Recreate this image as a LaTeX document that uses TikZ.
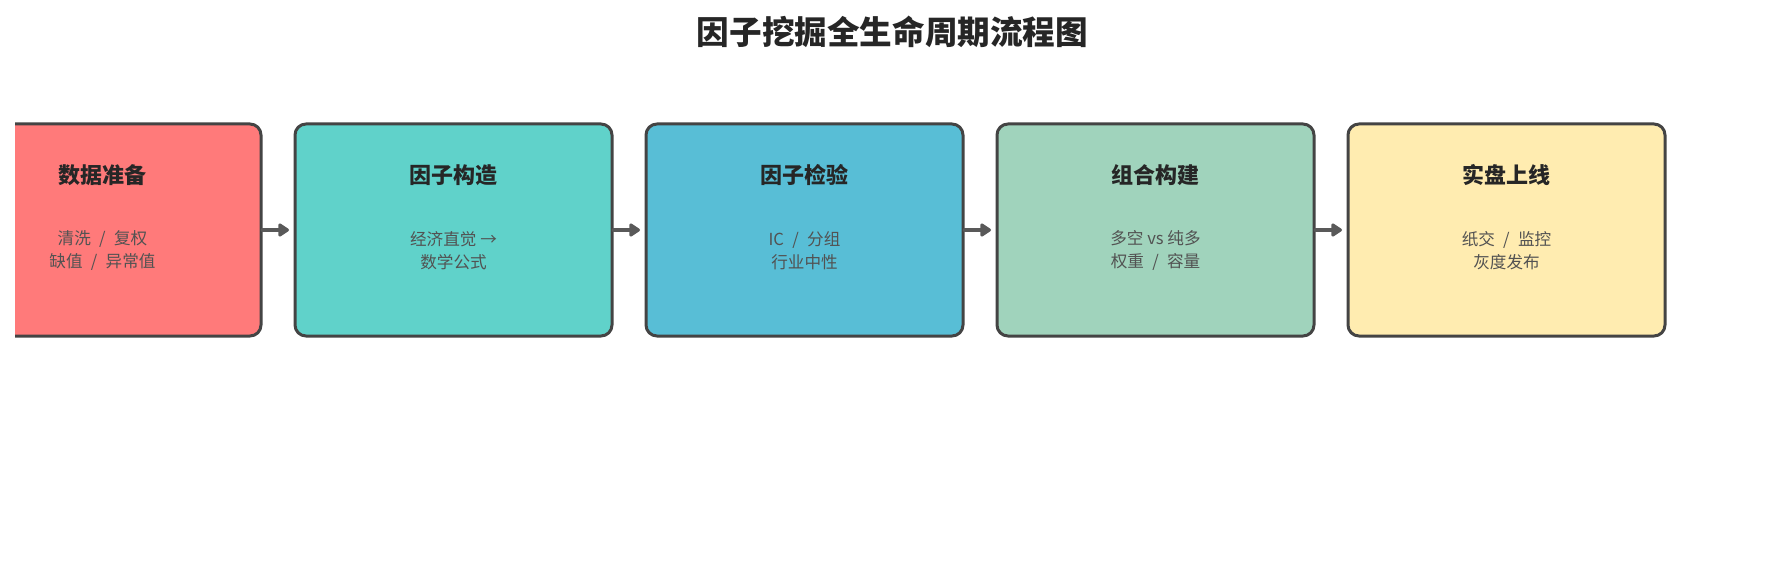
\documentclass[tikz,border=0pt]{standalone}
\usepackage{fontspec}
\setmainfont{Noto Sans CJK SC}
\usetikzlibrary{arrows.meta,positioning}

\definecolor{stagePrep}{RGB}{255,122,122}
\definecolor{stageBuild}{RGB}{96,210,202}
\definecolor{stageTest}{RGB}{88,190,214}
\definecolor{stagePort}{RGB}{160,211,188}
\definecolor{stageLive}{RGB}{255,236,176}
\definecolor{edgeGray}{HTML}{444444}
\newcommand{\stageSlash}{\enspace/\enspace}

\begin{document}
\begin{tikzpicture}[x=0.5pt,y=0.5pt,
    stage/.style={draw=edgeGray, line width=1.5pt, rounded corners=5.5pt,
      minimum width=158.5pt, minimum height=106pt, inner sep=0pt, outer sep=0pt},
    head/.style={font=\fontsize{11}{13}\selectfont\bfseries, text=black!85},
    note/.style={font=\fontsize{8.3}{11.5}\selectfont, text=black!68, align=center},
    flow/.style={-{Triangle[length=6pt,width=7.5pt,round]}, line width=2.4pt,
      draw=black!65, line cap=round, shorten <=1pt, shorten >=3pt}]
  \useasboundingbox (0,0) rectangle (1785,585);

  % Title
  \node[font=\fontsize{16.3}{19}\selectfont\bfseries, text=black!85] (title)
    at (892.5,553) {因子挖掘全生命周期流程图};

  % Stages (the first one runs off the left edge)
  \begin{scope}
    \clip (15,0) rectangle (1785,585);
    \node[stage, fill=stagePrep] (prep) at (102.5,355) {};
  \end{scope}
  \node[stage, fill=stageBuild, right=17pt of prep] (build) {};
  \node[stage, fill=stageTest, right=17pt of build] (test) {};
  \node[stage, fill=stagePort, right=17pt of test] (port) {};
  \node[stage, fill=stageLive, right=17pt of port] (live) {};

  % Stage texts
  \node[head] (prepHead) at ([yshift=-25.5pt]prep.north) {数据准备};
  \node[note] (prepNote) at ([yshift=-63.3pt]prep.north) {清洗\stageSlash 复权\\缺值\stageSlash 异常值};
  \node[head] (buildHead) at ([yshift=-25.5pt]build.north) {因子构造};
  \node[note] (buildNote) at ([yshift=-63.3pt]build.north) {经济直觉 →\\数学公式};
  \node[head] (testHead) at ([yshift=-25.5pt]test.north) {因子检验};
  \node[note] (testNote) at ([yshift=-63.3pt]test.north) {IC\stageSlash 分组\\行业中性};
  \node[head] (portHead) at ([yshift=-25.5pt]port.north) {组合构建};
  \node[note] (portNote) at ([yshift=-63.3pt]port.north) {多空 vs 纯多\\权重\stageSlash 容量};
  \node[head] (liveHead) at ([yshift=-25.5pt]live.north) {实盘上线};
  \node[note] (liveNote) at ([yshift=-63.3pt]live.north) {纸交\stageSlash 监控\\灰度发布};

  % Arrows between stages
  \draw[flow] (prep) -- (build);
  \draw[flow] (build) -- (test);
  \draw[flow] (test) -- (port);
  \draw[flow] (port) -- (live);
\end{tikzpicture}
\end{document}
